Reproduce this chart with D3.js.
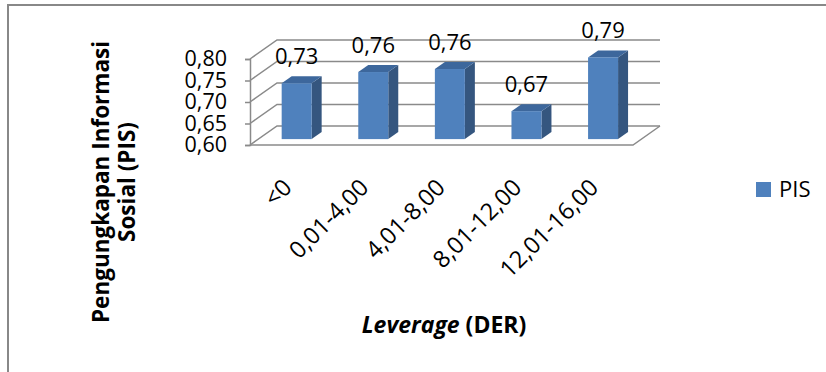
<!DOCTYPE html>
<html><head>
<meta charset="utf-8">
<script src="https://d3js.org/d3.v7.min.js"></script>
<style>
  body { margin: 0; background: #fff; }
  text { font-family: "Open Sans", "Noto Sans", sans-serif; fill: #000; }
  .grid { stroke: #8a8a8a; stroke-width: 1.5px; fill: none; }
</style>
</head>
<body>
<svg id="chart" width="826" height="372"></svg>
<script>
// data
const categories = ["<0", "0,01-4,00", "4,01-8,00", "8,01-12,00", "12,01-16,00"];
const pisValues = [0.73, 0.756, 0.763, 0.665, 0.79];
const yTicks = [0.60, 0.65, 0.70, 0.75, 0.80];
const seriesName = "PIS";

const svg = d3.select("#chart");
const fmt = v => v.toFixed(2).replace(".", ",");

// frame of the chart area (only top and left edges show)
svg.append("path")
   .attr("d", "M8,372V5H826")
   .attr("fill", "none")
   .attr("stroke", "#888")
   .attr("stroke-width", 2);

// front plane scales
const x = d3.scaleBand().domain(categories).range([250, 633]);
const y = d3.scaleLinear().domain([0.6, 0.8]).range([145, 59]);

// depth of the 3d box (full depth offset) and where bars sit inside it
const DX = 27, DY = 19;
const f0 = 0.31, f1 = 0.68;
const P = (px, v, f) => [px + f * DX, y(v) - f * DY];
const pts = arr => arr.map(p => p.join(",")).join(" ");

const walls = svg.append("g");
const x0 = x.range()[0], x1 = x.range()[1];

// gridlines: side wall diagonal + back wall horizontal
yTicks.forEach(t => {
  walls.append("polyline").attr("class", "grid")
       .attr("points", pts([P(x0, t, 0), P(x0, t, 1), P(x1, t, 1)]));
});
// floor front + right edge
walls.append("polyline").attr("class", "grid")
     .attr("points", pts([P(x0, 0.6, 0), P(x1, 0.6, 0), P(x1, 0.6, 1)]));

// y axis on the front left edge
const yAxis = svg.append("g")
   .attr("transform", `translate(${x0},0)`)
   .call(d3.axisLeft(y).tickValues(yTicks).tickFormat(fmt).tickSize(5).tickPadding(18));
yAxis.select(".domain").attr("stroke", "#8a8a8a").attr("stroke-width", 1.5);
yAxis.selectAll(".tick line").attr("stroke", "#8a8a8a").attr("stroke-width", 1.5);
yAxis.selectAll(".tick text").attr("font-size", 21.5).attr("font-family", "Open Sans").attr("fill", "#000");

// bars
const barW = 30;
const bars = svg.append("g");
categories.forEach((c, i) => {
  const v = pisValues[i];
  const a = x(c) + x.bandwidth() / 2 - barW / 2;
  const b = a + barW;
  // side
  bars.append("polygon")
      .attr("points", pts([P(b, v, f0), P(b, v, f1), P(b, 0.6, f1), P(b, 0.6, f0)]))
      .attr("fill", "#35567f");
  // top
  bars.append("polygon")
      .attr("points", pts([P(a, v, f0), P(b, v, f0), P(b, v, f1), P(a, v, f1)]))
      .attr("fill", "#3d679c");
  // front
  const tl = P(a, v, f0), br = P(b, 0.6, f0);
  bars.append("rect")
      .attr("x", tl[0]).attr("y", tl[1])
      .attr("width", br[0] - tl[0]).attr("height", br[1] - tl[1])
      .attr("fill", "#4f81bd");
  // value label
  bars.append("text")
      .attr("x", (tl[0] + br[0]) / 2)
      .attr("y", tl[1] - 19)
      .attr("text-anchor", "middle")
      .attr("font-size", 22)
      .text(fmt(v));
});

// category labels, rotated
svg.append("g").selectAll("text").data(categories).join("text")
   .attr("transform", d => `translate(${x(d) + x.bandwidth() / 2 + 5},189) rotate(-45)`)
   .attr("text-anchor", "end")
   .attr("font-size", 23.5)
   .text(d => d);

// y title (two lines, bold)
const yt = svg.append("text")
   .attr("transform", "translate(109,182) rotate(-90)")
   .attr("text-anchor", "middle")
   .attr("font-weight", "bold")
   .attr("font-size", 22.5);
yt.append("tspan").attr("x", 0).attr("y", 0).text("Pengungkapan Informasi");
yt.append("tspan").attr("x", 0).attr("y", 26).text("Sosial (PIS)");

// x title
const xt = svg.append("text")
   .attr("x", 444).attr("y", 333)
   .attr("text-anchor", "middle")
   .attr("font-weight", "bold")
   .attr("font-size", 23);
xt.append("tspan").attr("font-style", "italic").text("Leverage");
xt.append("tspan").text(" (DER)");

// legend
svg.append("rect").attr("x", 756).attr("y", 182).attr("width", 15).attr("height", 15).attr("fill", "#4f81bd");
svg.append("text").attr("x", 779).attr("y", 197).attr("font-size", 22).text(seriesName);
</script>
</body></html>
